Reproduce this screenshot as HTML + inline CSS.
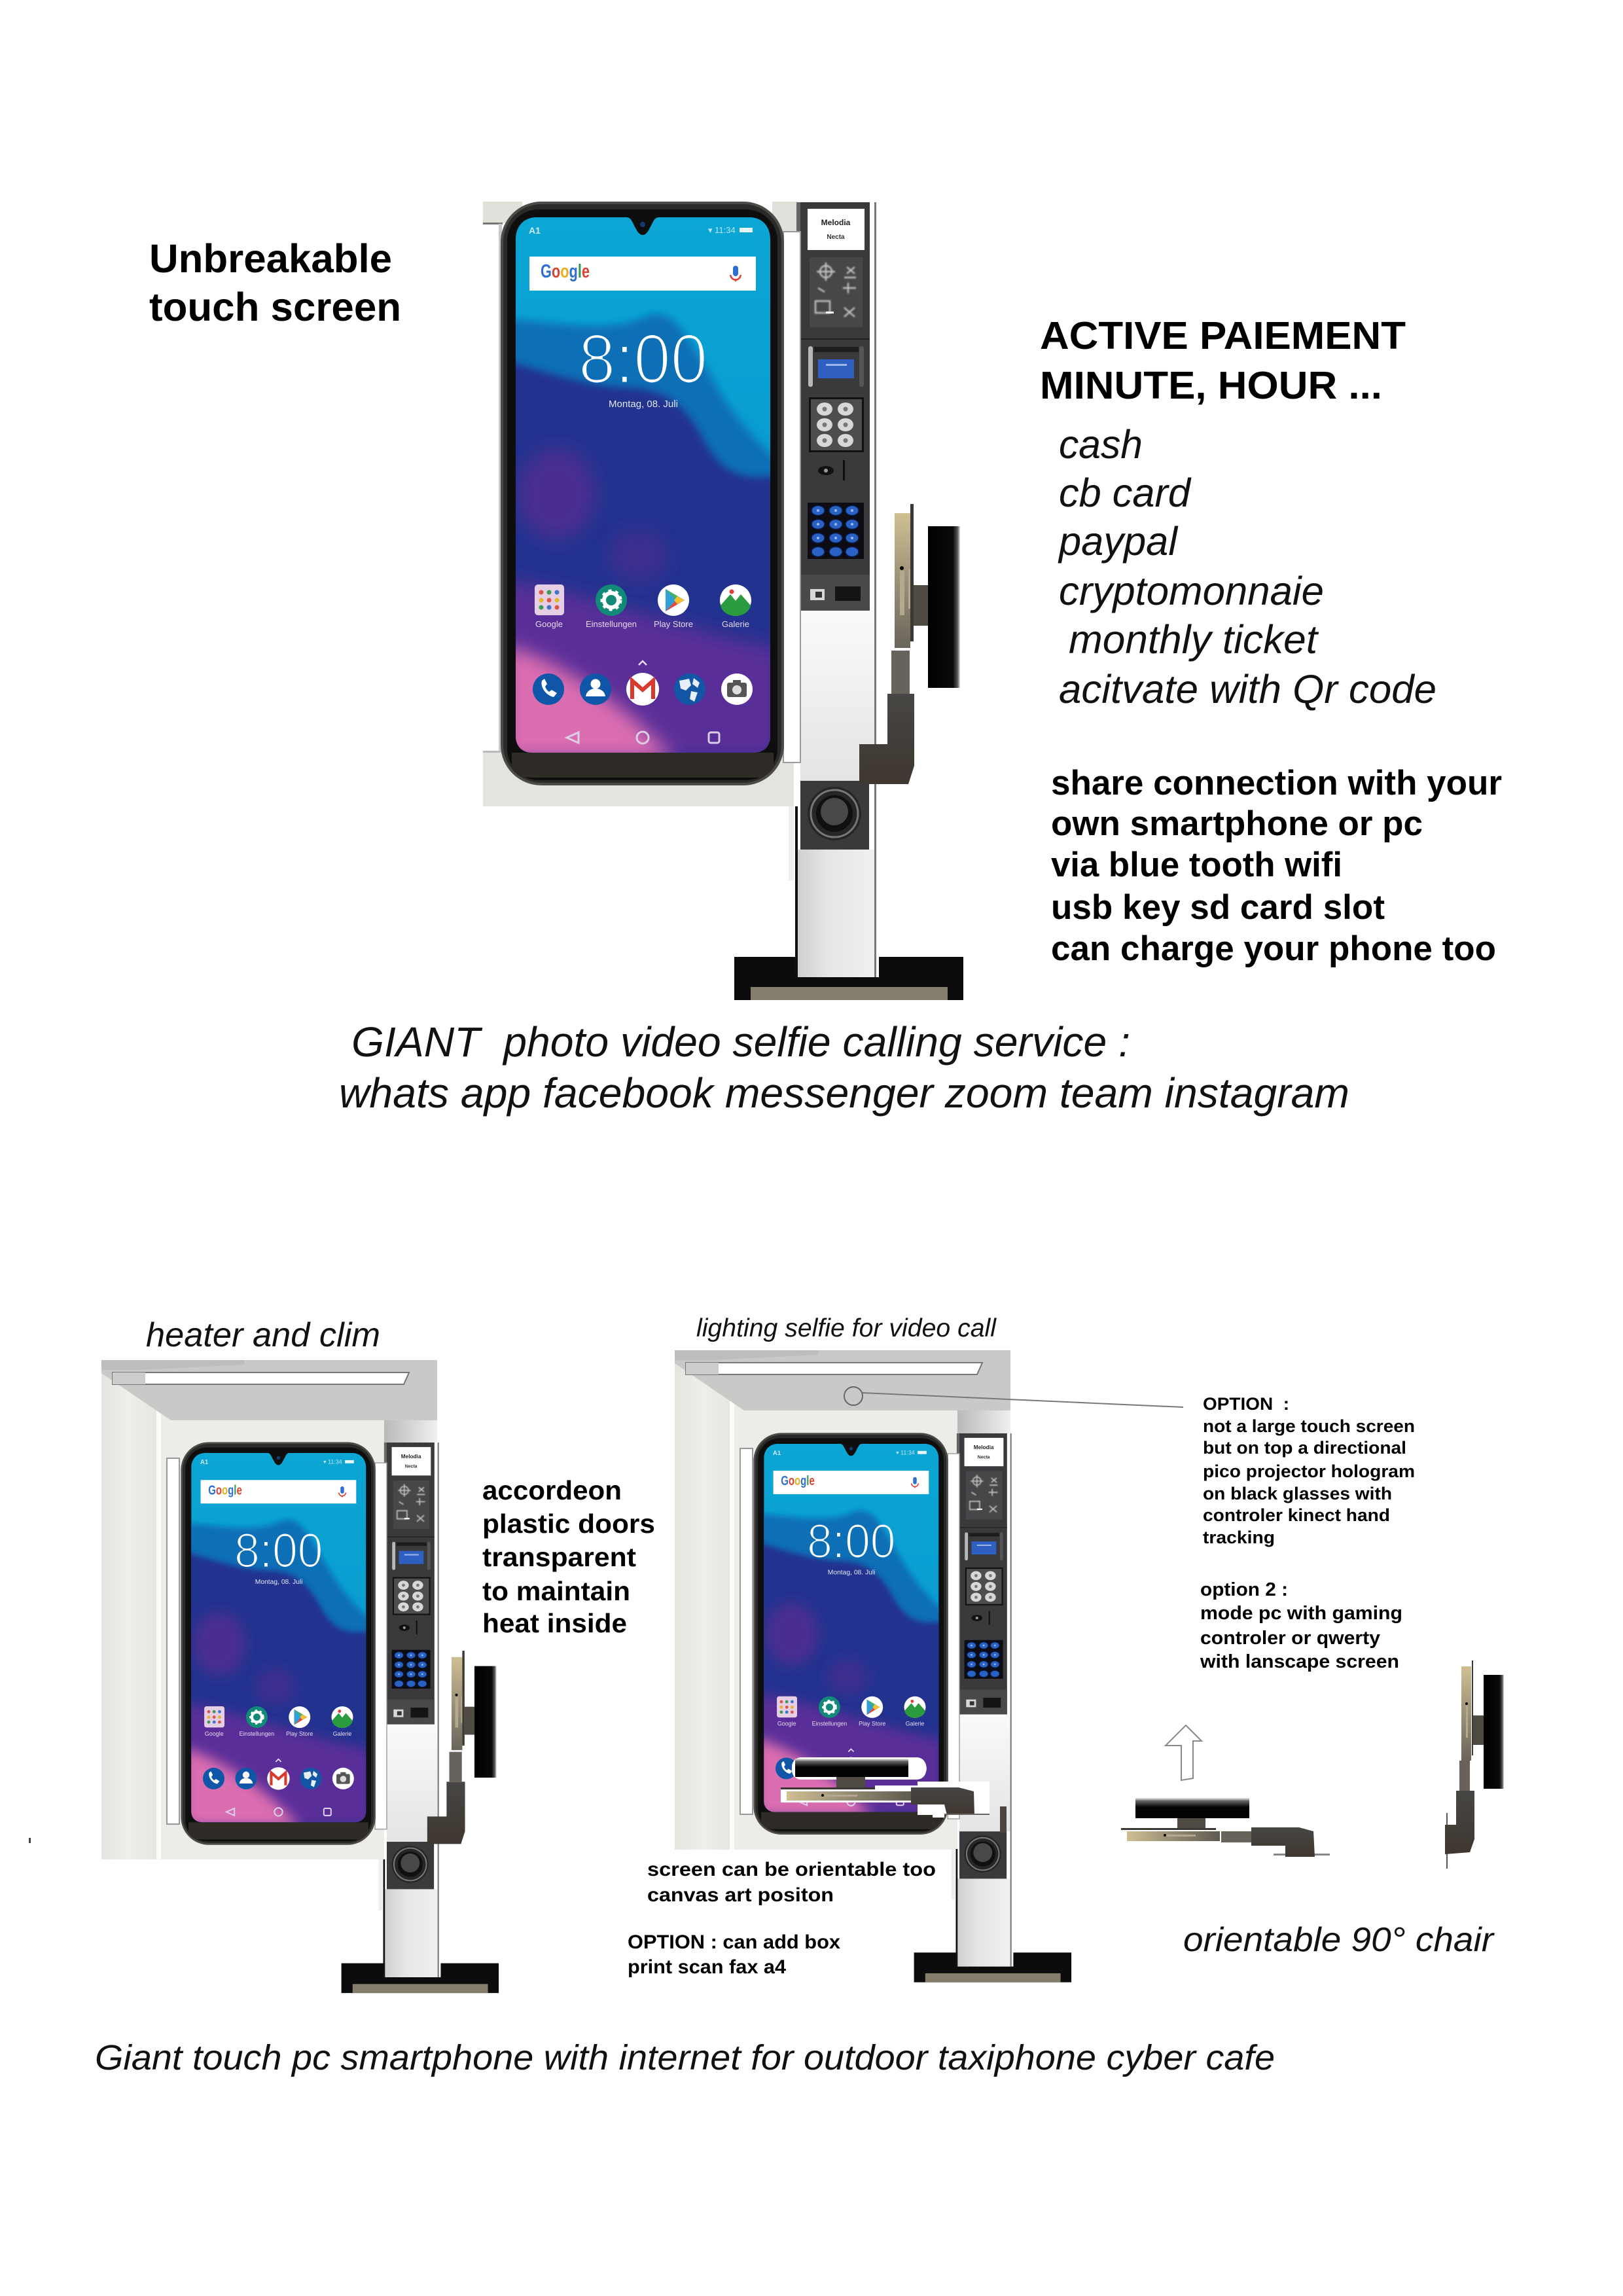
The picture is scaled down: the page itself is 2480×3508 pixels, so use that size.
<!DOCTYPE html>
<html><head><meta charset="utf-8"><title>Giant touch kiosk</title>
<style>html,body{margin:0;padding:0;background:#fff}svg{display:block}text{font-family:"Liberation Sans",sans-serif}.b{font-weight:bold;fill:#000}.i{font-style:italic;fill:#111}</style></head>
<body>
<svg xmlns="http://www.w3.org/2000/svg" width="2480" height="3508" viewBox="0 0 2480 3508">
<defs>
<clipPath id="scr"><path d="M820,332H957C965,332 966,340 972,350C978,362 986,362 992,350C998,340 999,332 1007,332H1145C1165,332 1177,346 1177,366V1125C1177,1140 1167,1150 1152,1150H813C798,1150 788,1140 788,1125V366C788,346 800,332 820,332Z"/></clipPath>
<filter id="b6" x="-20%" y="-20%" width="140%" height="140%"><feGaussianBlur stdDeviation="6"/></filter>
<filter id="b14" x="-30%" y="-30%" width="160%" height="160%"><feGaussianBlur stdDeviation="14"/></filter>
<filter id="b2" x="-10%" y="-10%" width="120%" height="120%"><feGaussianBlur stdDeviation="1"/></filter>
<filter id="thin" x="-5%" y="-5%" width="110%" height="110%"><feMorphology operator="erode" radius="1.4"/></filter>
<linearGradient id="cyan" x1="0" y1="0" x2="0" y2="1"><stop offset="0" stop-color="#0ba6d4"/><stop offset=".5" stop-color="#0a9bd0"/><stop offset="1" stop-color="#0a8ec8"/></linearGradient>
<linearGradient id="col" x1="0" y1="0" x2="1" y2="0"><stop offset="0" stop-color="#d0d0d0"/><stop offset=".4" stop-color="#e6e6e6"/><stop offset="1" stop-color="#f0f0f0"/></linearGradient>
<linearGradient id="col2" x1="0" y1="0" x2="0" y2="1"><stop offset="0" stop-color="#fafafa"/><stop offset="1" stop-color="#e4e4e4"/></linearGradient>
<linearGradient id="tanv" x1="0" y1="0" x2="0" y2="1"><stop offset="0" stop-color="#cfc092"/><stop offset=".45" stop-color="#a0957a"/><stop offset="1" stop-color="#6a655b"/></linearGradient>
<linearGradient id="tanh" x1="0" y1="0" x2="1" y2="0"><stop offset="0" stop-color="#cfc092"/><stop offset=".4" stop-color="#a0957a"/><stop offset="1" stop-color="#5f5a50"/></linearGradient>
<linearGradient id="elb" x1="0" y1="0" x2="0" y2="1"><stop offset="0" stop-color="#474644"/><stop offset="1" stop-color="#3f3730"/></linearGradient>
<linearGradient id="mon" x1="0" y1="0" x2="1" y2="0"><stop offset="0" stop-color="#000"/><stop offset=".78" stop-color="#0a0a0a"/><stop offset=".92" stop-color="#555"/><stop offset="1" stop-color="#ddd"/></linearGradient>
<linearGradient id="monh" x1="0" y1="1" x2="0" y2="0"><stop offset="0" stop-color="#000"/><stop offset=".55" stop-color="#050505"/><stop offset=".85" stop-color="#666"/><stop offset="1" stop-color="#eee"/></linearGradient>
<linearGradient id="wall" x1="0" y1="0" x2="1" y2="0"><stop offset="0" stop-color="#e6e4df"/><stop offset=".5" stop-color="#f0eeea"/><stop offset="1" stop-color="#e8e6e1"/></linearGradient>
<linearGradient id="cap" x1="0" y1="0" x2="1" y2="0"><stop offset="0" stop-color="#b9b9b9"/><stop offset="1" stop-color="#f0f0f0"/></linearGradient>
</defs>
<rect width="2480" height="3508" fill="#fff"/>

<!-- unit 1 panel stubs -->
<rect x="738" y="308" width="60" height="33" fill="#e2e0da"/>
<rect x="738" y="340" width="30" height="3" fill="#777"/>
<rect x="1180" y="308" width="38" height="46" fill="#e2e0da"/>
<rect x="762" y="342" width="5" height="808" fill="#c9c9c7"/>
<rect x="738" y="1149" width="475" height="83" fill="#e5e3de"/>
<rect x="738" y="1147" width="30" height="3" fill="#bbb"/>

<!-- shell unit 3 -->
<g id="shell">
<rect x="1031" y="2063" width="432" height="763" fill="#eeece8"/>
<rect x="1031" y="2070" width="84" height="756" fill="url(#wall)"/>
<rect x="1115" y="2140" width="7" height="686" fill="#fbfbf9"/>
<path d="M1031,2063H1544V2155H1137L1031,2083Z" fill="#c9c9c7"/>
<path d="M1031,2063H1250V2070L1090,2078H1031Z" fill="#bdbdbb"/>
<path d="M1048,2082H1501L1493,2100H1048Z" fill="#fff" stroke="#777" stroke-width="2"/>
<rect x="1048" y="2082" width="50" height="18" fill="#ccc"/>
<rect x="1131" y="2213" width="19" height="559" fill="#fff" stroke="#999" stroke-width="2"/>
<rect x="1463" y="2155" width="81" height="40" fill="url(#cap)"/>
</g>
<use href="#shell" transform="translate(-876,15)"/>

<!-- main unit -->
<g id="core">
<!-- base -->
<rect x="1122" y="1462" width="350" height="66" fill="#0c0c0c"/>
<rect x="1147" y="1508" width="301" height="20" fill="#857d6c"/>
<!-- column -->
<rect x="1219" y="309" width="124" height="1184" fill="#fff"/>
<rect x="1223" y="933" width="113" height="260" fill="url(#col2)"/>
<rect x="1219" y="1298" width="117" height="195" fill="url(#col)"/>
<rect x="1205" y="1232" width="8" height="113" fill="#eeeeec"/>
<rect x="1215" y="1232" width="4" height="262" fill="#111"/>
<rect x="1336" y="309" width="3" height="1184" fill="#777"/>
<!-- dark panel -->
<rect x="1217" y="309" width="6" height="46" fill="#666"/>
<rect x="1223" y="309" width="106" height="624" fill="#3a3a3d"/>
<rect x="1234" y="319" width="87" height="63" fill="#fff"/>
<text x="1277" y="344" text-anchor="middle" font-size="12" font-weight="bold" fill="#222">Melodia</text>
<text x="1277" y="365" text-anchor="middle" font-size="10" font-weight="bold" fill="#333">Necta</text>
<rect x="1237" y="393" width="81" height="107" fill="#47474a"/>
<g fill="none" stroke="#c4c4c4" stroke-width="2.4" filter="url(#b2)"><circle cx="1262" cy="415" r="9"/><path d="M1248,415h28M1262,401v28M1294,408l12,10M1306,408l-12,10M1288,440h20M1296,432v16M1246,460h22v18h-22zM1290,470l16,14M1306,470l-16,14M1250,440l10,6M1290,424h18"/></g>
<rect x="1262" y="476" width="12" height="3" fill="#fff"/>
<rect x="1223" y="517" width="106" height="2" fill="#222"/>
<rect x="1235" y="529" width="7" height="62" rx="3" fill="#b8b8b8"/>
<rect x="1313" y="529" width="7" height="62" rx="3" fill="#555"/>
<rect x="1244" y="530" width="68" height="8" fill="#1e1e20"/>
<rect x="1250" y="549" width="55" height="29" fill="#2f5fc0"/>
<rect x="1262" y="556" width="32" height="3" fill="#9bb6e8"/>
<rect x="1236" y="607" width="84" height="84" fill="#111"/>
<rect x="1239" y="610" width="78" height="78" fill="#4d4d4f"/>
<g fill="#d8d8d8"><ellipse cx="1260" cy="625" rx="12" ry="10"/><ellipse cx="1292" cy="625" rx="12" ry="10"/><ellipse cx="1260" cy="649" rx="12" ry="10"/><ellipse cx="1292" cy="649" rx="12" ry="10"/><ellipse cx="1260" cy="673" rx="12" ry="10"/><ellipse cx="1292" cy="673" rx="12" ry="10"/></g>
<g fill="#77777a"><circle cx="1260" cy="625" r="3.5"/><circle cx="1292" cy="625" r="3.5"/><circle cx="1260" cy="649" r="3.5"/><circle cx="1292" cy="649" r="3.5"/><circle cx="1260" cy="673" r="3.5"/><circle cx="1292" cy="673" r="3.5"/></g>
<ellipse cx="1262" cy="719" rx="12" ry="7" fill="#111"/><circle cx="1262" cy="719" r="3" fill="#999"/>
<rect x="1288" y="703" width="3" height="31" fill="#0f0f0f"/>
<rect x="1234" y="768" width="86" height="86" fill="#0c0c12"/>
<g fill="#2a62c4" stroke="#0a1e50" stroke-width="1.5"><ellipse cx="1250" cy="780" rx="10" ry="7.5"/><ellipse cx="1277" cy="780" rx="10" ry="7.5"/><ellipse cx="1302" cy="780" rx="10" ry="7.5"/><ellipse cx="1250" cy="801" rx="10" ry="7.5"/><ellipse cx="1277" cy="801" rx="10" ry="7.5"/><ellipse cx="1302" cy="801" rx="10" ry="7.5"/><ellipse cx="1250" cy="822" rx="10" ry="7.5"/><ellipse cx="1277" cy="822" rx="10" ry="7.5"/><ellipse cx="1302" cy="822" rx="10" ry="7.5"/><ellipse cx="1250" cy="843" rx="10" ry="7.5"/><ellipse cx="1277" cy="843" rx="10" ry="7.5"/><ellipse cx="1302" cy="843" rx="10" ry="7.5"/></g>
<g fill="#9ab8ee"><circle cx="1250" cy="780" r="2"/><circle cx="1277" cy="780" r="2"/><circle cx="1302" cy="780" r="2"/><circle cx="1250" cy="801" r="2"/><circle cx="1277" cy="801" r="2"/><circle cx="1302" cy="801" r="2"/><circle cx="1250" cy="822" r="2"/><circle cx="1277" cy="822" r="2"/><circle cx="1302" cy="822" r="2"/></g>
<rect x="1223" y="878" width="106" height="55" fill="#49494b"/>
<rect x="1238" y="900" width="22" height="17" fill="#d8d8d8"/><rect x="1246" y="904" width="10" height="9" fill="#333"/>
<rect x="1276" y="896" width="39" height="22" fill="#141416"/>
<!-- joystick -->
<rect x="1223" y="1193" width="105" height="105" fill="#3a3a3c"/>
<circle cx="1275" cy="1243" r="41" fill="#262628"/>
<circle cx="1275" cy="1243" r="36" fill="none" stroke="#77777a" stroke-width="3"/>
<circle cx="1275" cy="1243" r="28" fill="#101011"/>
<circle cx="1275" cy="1240" r="21" fill="#48484a"/>
<!-- door strip -->
<rect x="1197" y="354" width="26" height="811" fill="#fff" stroke="#9a9a9a" stroke-width="2"/>
<!-- phone -->
<rect x="765" y="308" width="433" height="892" rx="62" fill="#4c4b47"/>
<rect x="769" y="312" width="425" height="884" rx="58" fill="#2c2a28"/>
<rect x="775" y="320" width="413" height="872" rx="48" fill="#0e0e0e"/>
<path d="M782,1150H1182V1165C1182,1178 1170,1188 1155,1188H810C795,1188 782,1178 782,1165Z" fill="#2f2b27"/>
<g clip-path="url(#scr)">
<rect x="788" y="332" width="389" height="818" fill="url(#cyan)"/>
<path d="M770,487C840,490 930,512 990,482C1030,468 1052,520 1078,560C1110,620 1140,660 1190,705V820H770Z" fill="#0b70b6" filter="url(#b6)"/>
<path d="M770,550C830,568 900,590 950,592C1010,592 1040,612 1070,662C1100,722 1130,736 1190,726V1160H770Z" fill="#23318f" filter="url(#b6)"/>
<ellipse cx="850" cy="755" rx="60" ry="70" fill="#4a2f90" filter="url(#b14)"/>
<ellipse cx="975" cy="850" rx="45" ry="40" fill="#3c2f90" filter="url(#b14)"/>
<path d="M770,885C900,905 1050,965 1190,990V1160H770Z" fill="#5a2f98" filter="url(#b14)"/>
<path d="M770,985C860,1010 960,1080 1030,1160H770Z" fill="#db6db1" filter="url(#b14)"/>
</g>
<circle cx="982" cy="343" r="4" fill="#123b6b"/>
<text x="808" y="357" font-size="14" font-weight="bold" fill="#cfeaf5">A1</text>
<rect x="1130" y="348" width="20" height="7" fill="#fff" opacity=".9"/>
<text x="1082" y="356" font-size="13" fill="#b9e4f2">▾ 11:34</text>
<rect x="809" y="392" width="346" height="52" fill="#fff"/>
<text x="826" y="424" font-size="29" font-weight="bold" textLength="75" lengthAdjust="spacingAndGlyphs"><tspan fill="#2f6fd0">G</tspan><tspan fill="#d94435">o</tspan><tspan fill="#e8b020">o</tspan><tspan fill="#2f6fd0">g</tspan><tspan fill="#2f9a4a">l</tspan><tspan fill="#d94435">e</tspan></text>
<rect x="1120" y="406" width="8" height="16" rx="4" fill="#2f6fd0"/>
<path d="M1116,420c2,10 14,10 16,0M1124,426v4" fill="none" stroke="#d94435" stroke-width="2.5"/>
<text x="884" y="585" font-size="107" fill="#fff" textLength="197" lengthAdjust="spacingAndGlyphs" filter="url(#thin)">8:00</text>
<text x="983" y="622" text-anchor="middle" font-size="15" fill="#dfe8f5">Montag, 08. Juli</text>
<!-- icons row 1 -->
<rect x="817" y="893" width="45" height="47" rx="5" fill="#e6cfe4"/>
<g fill="#d9574a"><circle cx="827" cy="905" r="3.5"/><circle cx="851" cy="928" r="3.5"/></g><g fill="#3d9a55"><circle cx="839" cy="905" r="3.5"/><circle cx="827" cy="928" r="3.5"/></g><g fill="#3c77cf"><circle cx="851" cy="905" r="3.5"/><circle cx="839" cy="928" r="3.5"/></g><g fill="#e4b52c"><circle cx="827" cy="917" r="3.5"/><circle cx="851" cy="917" r="3.5"/></g><circle cx="839" cy="917" r="3.5" fill="#d9574a"/>
<circle cx="934" cy="917" r="24" fill="#128a78"/>
<circle cx="934" cy="917" r="11" fill="none" stroke="#fff" stroke-width="6"/>
<circle cx="934" cy="917" r="15" fill="none" stroke="#fff" stroke-width="3" stroke-dasharray="5 6"/>
<circle cx="1029" cy="917" r="24" fill="#fff"/>
<path d="M1017,900V934L1046,917Z" fill="#2fa0d8"/><path d="M1017,900L1033,917L1046,917Z" fill="#46b060"/><path d="M1017,934L1033,917L1046,917Z" fill="#e04a40"/><path d="M1035,911L1046,917L1035,923L1030,917Z" fill="#f2c230"/>
<circle cx="1124" cy="917" r="24" fill="#fff"/>
<path d="M1101,925L1116,908L1124,918L1132,908L1147,925C1145,935 1135,941 1124,941C1113,941 1103,935 1101,925Z" fill="#2a9b3f"/>
<circle cx="1118" cy="904" r="3.5" fill="#e23b3b"/>
<g font-size="13" fill="#e6d8ee" text-anchor="middle"><text x="839" y="958">Google</text><text x="934" y="958">Einstellungen</text><text x="1029" y="958">Play Store</text><text x="1124" y="958">Galerie</text></g>
<path d="M976,1016L982,1010L988,1016" fill="none" stroke="#e8dcee" stroke-width="2.5"/>
<!-- row 2 -->
<circle cx="838" cy="1053" r="24" fill="#0f56a8"/>
<path d="M828,1040c-3,10 7,23 18,25l5,-6l-8,-5l-4,3c-3,-2 -5,-5 -6,-8l3,-4l-4,-8Z" fill="#fff"/>
<circle cx="910" cy="1053" r="24" fill="#0f56a8"/>
<circle cx="910" cy="1045" r="7.5" fill="#fff"/><path d="M895,1064c2,-16 28,-16 30,0Z" fill="#fff"/>
<circle cx="982" cy="1053" r="25" fill="#fff"/>
<path d="M966,1068V1040L982,1054L998,1040V1068" fill="none" stroke="#d93a30" stroke-width="6"/>
<circle cx="1054" cy="1053" r="24" fill="#1356a6"/>
<path d="M1038,1040l15,-3l3,10l-8,8l-8,-3ZM1056,1056l10,2l-5,14l-7,-4ZM1060,1036l9,7l-3,8l-8,-6Z" fill="#e8eef6"/>
<circle cx="1126" cy="1053" r="24" fill="#fff"/>
<rect x="1111" y="1043" width="30" height="22" rx="3" fill="#555"/><circle cx="1126" cy="1054" r="7" fill="#ddd"/><rect x="1120" y="1039" width="12" height="5" fill="#555"/>
<!-- nav -->
<path d="M884,1119L866,1127L884,1135Z" fill="none" stroke="#d9cfe6" stroke-width="3"/>
<circle cx="982" cy="1127" r="9" fill="none" stroke="#d9cfe6" stroke-width="3"/>
<rect x="1083" y="1119" width="16" height="16" rx="3" fill="none" stroke="#d9cfe6" stroke-width="3"/>
</g>

<g id="arm">
<rect x="1367" y="784" width="24" height="206" fill="url(#tanv)"/>
<rect x="1362" y="994" width="28" height="66" fill="#67635a"/>
<rect x="1375" y="872" width="7" height="68" fill="#b3a98f"/>
<circle cx="1378" cy="868" r="3" fill="#000"/>
<rect x="1388" y="870" width="4" height="60" fill="#b3a98f"/>
<rect x="1391" y="770" width="5" height="210" fill="#3b3833"/>
<rect x="1396" y="894" width="22" height="62" fill="#4f4a42"/>
<rect x="1418" y="804" width="49" height="247" fill="url(#mon)"/>
<path d="M1356,1060H1397V1170L1388,1198H1313V1137H1356Z" fill="url(#elb)"/>
</g>
<use href="#core" transform="matrix(.687 0 0 .69 -249.2 1990.8)"/>
<use href="#arm" transform="matrix(.687 0 0 .69 -249.2 1990.8)"/>
<use href="#core" transform="matrix(.687 0 0 .688 625.8 1977.4)"/>

<!-- unit 3 horizontal chair overlay -->
<rect x="1210" y="2685" width="205" height="34" rx="14" fill="#fff"/>
<rect x="1215" y="2687" width="173" height="28" fill="url(#monh)"/>
<rect x="1278" y="2715" width="44" height="17" fill="#4f4a42"/>
<rect x="1193" y="2733" width="200" height="21" fill="#fff"/>
<rect x="1402" y="2722" width="110" height="51" fill="#fff"/>
<rect x="1337" y="2728" width="70" height="8" fill="#fff"/>
<rect x="1425" y="2760" width="18" height="17" fill="#fff"/>
<rect x="1193" y="2731" width="144" height="3" fill="#3b3833"/>
<rect x="1202" y="2737" width="190" height="14" fill="url(#tanh)"/>
<rect x="1260" y="2742" width="50" height="3" fill="#b3a98f"/><circle cx="1257" cy="2743" r="2" fill="#000"/>
<path d="M1392,2731H1465L1488,2737L1489,2773H1447L1443,2757H1392Z" fill="url(#elb)"/>
<rect x="1443" y="2771" width="69" height="2" fill="#666"/>
<rect x="1528" y="2760" width="10" height="40" fill="#4a4540"/>

<!-- connector -->
<circle cx="1304" cy="2133" r="14" fill="none" stroke="#666" stroke-width="2"/>
<path d="M1318,2128L1808,2150" stroke="#777" stroke-width="2" fill="none"/>

<!-- up arrow -->
<path d="M1812,2636L1836,2660H1823V2717L1805,2720V2667H1781Z" fill="#fff" stroke="#888" stroke-width="2"/>
<!-- horizontal chair -->
<rect x="1735" y="2747" width="174" height="31" fill="url(#monh)"/>
<rect x="1799" y="2778" width="43" height="15" fill="#4f4a42"/>
<rect x="1713" y="2793" width="145" height="3" fill="#3b3833"/>
<rect x="1722" y="2798" width="142" height="15" fill="url(#tanh)"/>
<rect x="1866" y="2798" width="47" height="17" fill="#67635a"/>
<rect x="1782" y="2803" width="45" height="3" fill="#b3a98f"/><circle cx="1780" cy="2804" r="2" fill="#000"/>
<rect x="1946" y="2832" width="86" height="3" fill="#888"/>
<path d="M1912,2792H1985L2007,2798L2009,2837H1964V2820H1912Z" fill="url(#elb)"/>
<!-- vertical chair -->
<rect x="2233" y="2546" width="15" height="144" fill="url(#tanv)"/>
<rect x="2230" y="2690" width="16" height="46" fill="#67635a"/>
<rect x="2240" y="2605" width="3" height="50" fill="#b3a98f"/><circle cx="2241" cy="2603" r="2" fill="#000"/>
<rect x="2249" y="2537" width="2" height="145" fill="#3b3833"/>
<rect x="2251" y="2621" width="16" height="45" fill="#4f4a42"/>
<rect x="2267" y="2559" width="31" height="174" fill="url(#mon)"/>
<rect x="2210" y="2770" width="2" height="85" fill="#555"/>
<path d="M2225,2736H2253V2810L2246,2830L2208,2833V2788H2225Z" fill="url(#elb)"/>
<rect x="44" y="2808" width="3" height="8" fill="#444"/>

<!-- text -->
<text class="b" x="228" y="416" font-size="61" textLength="371" lengthAdjust="spacingAndGlyphs">Unbreakable</text>
<text class="b" x="228" y="490" font-size="61" textLength="385" lengthAdjust="spacingAndGlyphs">touch screen</text>
<text class="b" x="1589" y="533" font-size="59" textLength="559" lengthAdjust="spacingAndGlyphs">ACTIVE PAIEMENT</text>
<text class="b" x="1589" y="609" font-size="59" textLength="523" lengthAdjust="spacingAndGlyphs">MINUTE, HOUR ...</text>
<g font-size="61">
<text class="i" x="1618" y="700" textLength="128" lengthAdjust="spacingAndGlyphs">cash</text>
<text class="i" x="1618" y="774" textLength="201" lengthAdjust="spacingAndGlyphs">cb card</text>
<text class="i" x="1618" y="848" textLength="181" lengthAdjust="spacingAndGlyphs">paypal</text>
<text class="i" x="1618" y="924" textLength="405" lengthAdjust="spacingAndGlyphs">cryptomonnaie</text>
<text class="i" x="1633" y="998" textLength="380" lengthAdjust="spacingAndGlyphs">monthly ticket</text>
<text class="i" x="1618" y="1074" textLength="577" lengthAdjust="spacingAndGlyphs">acitvate with Qr code</text>
</g>
<text class="b" x="1606" y="1214" font-size="53" textLength="689" lengthAdjust="spacingAndGlyphs">share connection with your</text>
<text class="b" x="1606" y="1276" font-size="53" textLength="568" lengthAdjust="spacingAndGlyphs">own smartphone or pc</text>
<text class="b" x="1606" y="1339" font-size="53" textLength="445" lengthAdjust="spacingAndGlyphs">via blue tooth wifi</text>
<text class="b" x="1606" y="1404" font-size="53" textLength="510" lengthAdjust="spacingAndGlyphs">usb key sd card slot</text>
<text class="b" x="1606" y="1467" font-size="53" textLength="680" lengthAdjust="spacingAndGlyphs">can charge your phone too</text>
<text class="i" x="537" y="1614" font-size="64" textLength="1190" lengthAdjust="spacingAndGlyphs" xml:space="preserve">GIANT  photo video selfie calling service :</text>
<text class="i" x="518" y="1692" font-size="64" textLength="1544" lengthAdjust="spacingAndGlyphs">whats app facebook messenger zoom team instagram</text>
<text class="i" x="223" y="2057" font-size="52" textLength="358" lengthAdjust="spacingAndGlyphs">heater and clim</text>
<text class="i" x="1064" y="2042" font-size="39" textLength="458" lengthAdjust="spacingAndGlyphs">lighting selfie for video call</text>
<text class="b" x="737" y="2291" font-size="41" textLength="213" lengthAdjust="spacingAndGlyphs">accordeon</text>
<text class="b" x="737" y="2342" font-size="41" textLength="264" lengthAdjust="spacingAndGlyphs">plastic doors</text>
<text class="b" x="737" y="2393" font-size="41" textLength="235" lengthAdjust="spacingAndGlyphs">transparent</text>
<text class="b" x="737" y="2445" font-size="41" textLength="226" lengthAdjust="spacingAndGlyphs">to maintain</text>
<text class="b" x="737" y="2494" font-size="41" textLength="221" lengthAdjust="spacingAndGlyphs">heat inside</text>
<text class="b" x="1838" y="2154" font-size="27" textLength="132" lengthAdjust="spacingAndGlyphs" xml:space="preserve">OPTION  :</text>
<text class="b" x="1838" y="2188" font-size="27" textLength="324" lengthAdjust="spacingAndGlyphs">not a large touch screen</text>
<text class="b" x="1838" y="2221" font-size="27" textLength="311" lengthAdjust="spacingAndGlyphs">but on top a directional</text>
<text class="b" x="1838" y="2257" font-size="27" textLength="324" lengthAdjust="spacingAndGlyphs">pico projector hologram</text>
<text class="b" x="1838" y="2291" font-size="27" textLength="289" lengthAdjust="spacingAndGlyphs">on black glasses with</text>
<text class="b" x="1838" y="2324" font-size="27" textLength="286" lengthAdjust="spacingAndGlyphs">controler kinect hand</text>
<text class="b" x="1838" y="2358" font-size="27" textLength="110" lengthAdjust="spacingAndGlyphs">tracking</text>
<text class="b" x="1834" y="2438" font-size="29" textLength="134" lengthAdjust="spacingAndGlyphs">option 2 :</text>
<text class="b" x="1834" y="2474" font-size="29" textLength="309" lengthAdjust="spacingAndGlyphs">mode pc with gaming</text>
<text class="b" x="1834" y="2512" font-size="29" textLength="275" lengthAdjust="spacingAndGlyphs">controler or qwerty</text>
<text class="b" x="1834" y="2548" font-size="29" textLength="304" lengthAdjust="spacingAndGlyphs">with lanscape screen</text>
<text class="b" x="989" y="2866" font-size="30" textLength="441" lengthAdjust="spacingAndGlyphs">screen can be orientable too</text>
<text class="b" x="989" y="2905" font-size="30" textLength="285" lengthAdjust="spacingAndGlyphs">canvas art positon</text>
<text class="b" x="959" y="2977" font-size="30" textLength="325" lengthAdjust="spacingAndGlyphs">OPTION : can add box</text>
<text class="b" x="959" y="3015" font-size="30" textLength="242" lengthAdjust="spacingAndGlyphs">print scan fax a4</text>
<text class="i" x="1808" y="2981" font-size="52" textLength="474" lengthAdjust="spacingAndGlyphs">orientable 90° chair</text>
<text class="i" x="145" y="3162" font-size="54" textLength="1803" lengthAdjust="spacingAndGlyphs">Giant touch pc smartphone with internet for outdoor taxiphone cyber cafe</text>
</svg>
</body></html>
